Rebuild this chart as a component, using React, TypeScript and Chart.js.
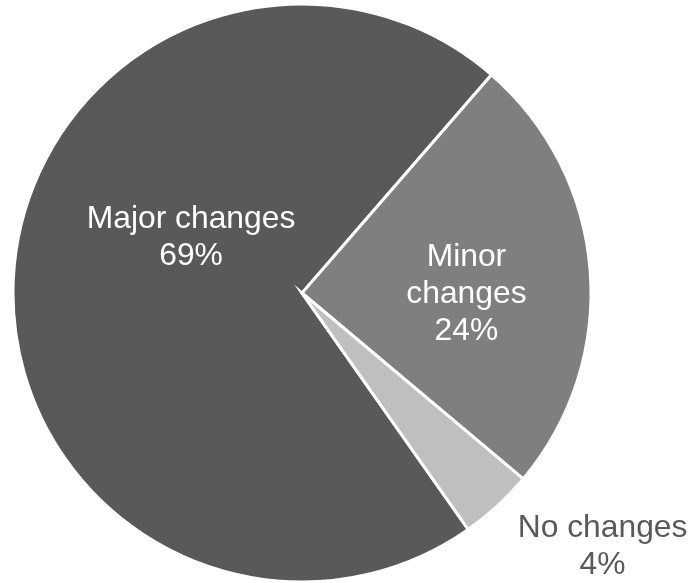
import React, { useEffect, useRef } from "react";
import { Chart, registerables } from "chart.js";

Chart.register(...registerables);

const categories = ["Major changes", "Minor changes", "No changes"];
const values = [69, 24, 4];
const percentLabels = ["69%", "24%", "4%"];
const sliceColors = ["#595959", "#7f7f7f", "#bfbfbf"];
const labelColors = ["#ffffff", "#ffffff", "#595959"];
const labelLines = [["Major changes", percentLabels[0]], ["Minor", "changes", percentLabels[1]], ["No changes", percentLabels[2]]];
// label block offsets relative to pie center, in units of radius
const labelOffsets = [
  [-0.384, -0.16],
  [0.569, 0.034],
  [1.04, 0.91],
];

const labelPlugin = {
  id: "sliceLabels",
  afterDatasetsDraw(chart: any) {
    const meta = chart.getDatasetMeta(0);
    const ctx = chart.ctx;
    ctx.save();
    ctx.font = "31.8px 'Liberation Sans', Arial, sans-serif";
    ctx.textAlign = "center";
    ctx.textBaseline = "alphabetic";
    const lh = 37;
    meta.data.forEach((arc: any, i: number) => {
      const r = arc.outerRadius;
      const cx = arc.x + labelOffsets[i][0] * r;
      const cy = arc.y + labelOffsets[i][1] * r;
      const lines = labelLines[i];
      ctx.fillStyle = labelColors[i];
      lines.forEach((t, j) => {
        const y = cy + (j - (lines.length - 1) / 2) * lh;
        ctx.fillText(t, cx, y);
      });
    });
    ctx.restore();
  },
};

export default function App() {
  const ref = useRef<HTMLCanvasElement>(null);
  useEffect(() => {
    document.body.style.margin = "0";
    const chart = new Chart(ref.current!, {
      type: "pie",
      data: {
        labels: categories,
        datasets: [
          {
            data: values,
            backgroundColor: sliceColors,
            borderColor: "#ffffff",
            borderWidth: 3,
            borderJoinStyle: "miter",
            clip: false,
          } as any,
        ],
      },
      options: {
        animation: false,
        responsive: false,
        rotation: 144.9,
        radius: 289,
        layout: { padding: { left: 12, right: 100, top: 3, bottom: 0 } },
        plugins: {
          legend: { display: false },
          tooltip: { enabled: false },
        },
      } as any,
      plugins: [labelPlugin],
    });
    return () => chart.destroy();
  }, []);
  return (
    <div style={{ position: "fixed", left: 0, top: 0, width: 692, height: 583 }}>
      <canvas ref={ref} width={692} height={583} />
    </div>
  );
}
